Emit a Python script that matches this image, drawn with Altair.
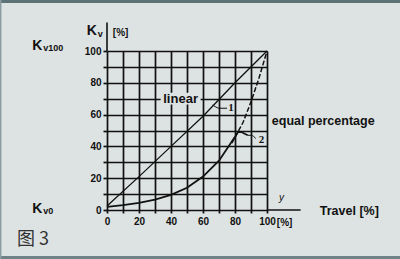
import altair as alt
import pandas as pd

# ---- data ----
lin_x = [0, 20, 40, 60, 80, 100]
lin_y = [2.5, 21, 40, 59, 80, 100]

eq_x = [0, 10, 20, 30, 40, 50, 60, 70, 80]
eq_y = [2, 3, 4.5, 6.5, 9.5, 14, 21, 31, 46]

meas_x = [80, 82, 84, 86, 88]
meas_y = [46, 49, 49, 48, 47]

theo_x = [78, 80, 85, 90, 95, 100]
theo_y = [42, 45.7, 55, 68, 83, 100]

lead1_x = [66, 68, 70, 75]
lead1_y = [66, 64.8, 64, 64]
lead2_x = [88, 90, 92, 93]
lead2_y = [47, 47, 46, 45]

tick_vals = list(range(0, 101, 10))

BG = "#dde3e2"
FONT = "Liberation Sans"
W, H = 160, 159

xs = alt.Scale(domain=[0, 100], nice=False)
ys = alt.Scale(domain=[0, 100], nice=False)

lab_expr = "datum.value % 20 == 0 ? datum.label : ''"
x_axis = alt.Axis(values=tick_vals, grid=True, title=None, labelExpr=lab_expr,
                  domain=False, tickSize=3, tickColor="#111", tickWidth=1.7,
                  gridColor="#111", gridWidth=1.7, gridOpacity=1,
                  labelFont=FONT, labelFontWeight="bold", labelFontSize=10,
                  labelColor="#111", labelPadding=3, labelFlush=False)
y_axis = alt.Axis(values=tick_vals, grid=True, title=None, labelExpr=lab_expr,
                  domain=False, tickSize=4, tickColor="#111", tickWidth=1.7,
                  gridColor="#111", gridWidth=1.7, gridOpacity=1,
                  labelFont=FONT, labelFontWeight="bold", labelFontSize=10,
                  labelColor="#111", labelPadding=2, labelFlush=False)


def X(f="x:Q"):
    return alt.X(f, scale=xs, axis=x_axis)


def Y(f="y:Q"):
    return alt.Y(f, scale=ys, axis=y_axis)


def line_layer(xv, yv, **kw):
    df = pd.DataFrame({"x": xv, "y": yv})
    return alt.Chart(df).mark_line(**kw).encode(x=X(), y=Y())


def text_layer(items, font=FONT, **kw):
    df = pd.DataFrame(items, columns=["x", "y", "t"])
    return alt.Chart(df).mark_text(font=font, color="#111", **kw).encode(
        x=X(), y=Y(), text="t:N")


one = pd.DataFrame({"a": [0]})

# frame decorations
frame_top = alt.Chart(one).mark_rule(color="#5e7377", strokeWidth=3).encode(
    x=alt.value(-107), x2=alt.value(293), y=alt.value(-49.5))
frame_bottom = alt.Chart(one).mark_rule(color="#6f8286", strokeWidth=3).encode(
    x=alt.value(-107), x2=alt.value(293), y=alt.value(206.5))
frame_left = alt.Chart(one).mark_rule(color="#8b9ca0", strokeWidth=1.5).encode(
    x=alt.value(-106.3), y=alt.value(-51), y2=alt.value(208))

# axis extensions
ext_df = pd.DataFrame({"x": [0, 100], "y": [100, 0], "x2": [0, 121], "y2": [118, 0]})
axis_ext = alt.Chart(ext_df).mark_rule(color="#111", strokeWidth=1.6).encode(
    x=X(), y=Y(), x2="x2:Q", y2="y2:Q")

# background box behind "linear"
box_df = pd.DataFrame({"x": [33.5], "x2": [58.5], "y": [66.3], "y2": [73.7]})
lin_box = alt.Chart(box_df).mark_rect(color=BG).encode(
    x=X(), x2="x2:Q", y=Y(), y2="y2:Q")

linear = line_layer(lin_x, lin_y, color="#111", strokeWidth=1.3)
eq = line_layer(eq_x, eq_y, color="#111", strokeWidth=1.8)
meas = line_layer(meas_x, meas_y, color="#111", strokeWidth=1.6)
theo = line_layer(theo_x, theo_y, color="#111", strokeWidth=1.5, strokeDash=[5, 2])
lead1 = line_layer(lead1_x, lead1_y, color="#111", strokeWidth=1, interpolate="monotone")
lead2 = line_layer(lead2_x, lead2_y, color="#111", strokeWidth=1, interpolate="monotone")

t_linear = text_layer([(46, 70, "linear")], fontSize=13, fontWeight="bold",
                      align="center", baseline="middle")
t_num = text_layer([(77.5, 64, "1"), (96.5, 44, "2")], font="Liberation Serif",
                   fontSize=11, fontWeight="bold", align="center", baseline="middle")
t_eq = text_layer([(103, 56, "equal percentage")], fontSize=12.5, fontWeight="bold",
                  align="left", baseline="middle")
t_travel = text_layer([(133, -0.5, "Travel [%]")], fontSize=12.5, fontWeight="bold",
                      align="left", baseline="middle")
t_y = text_layer([(109, 7.5, "y")], fontSize=10, fontStyle="italic",
                 align="center", baseline="middle")
t_pct = text_layer([(111, -8.3, "[%]"), (8.5, 111.5, "[%]")], fontSize=10,
                   fontWeight="bold", align="center", baseline="middle")
t_K = text_layer([(-9.5, 112.5, "K"), (-43.5, 103.2, "K"), (-43.5, 0.5, "K")],
                 fontSize=14, fontWeight="bold", align="center", baseline="middle")
t_sub = text_layer([(-5.8, 110.5, "v"), (-39.8, 101.8, "v100"), (-39.8, -0.6, "v0")],
                   fontSize=9, fontWeight="bold", align="left", baseline="middle")
t_fig = alt.Chart(one).mark_text(font="Noto Sans CJK SC", fontSize=18, color="#333",
                                 align="left", baseline="middle").encode(
    x=alt.value(-90), y=alt.value(189), text=alt.value("图 3"))

chart = alt.layer(
    linear, lin_box, eq, meas, theo, lead1, lead2, axis_ext,
    t_linear, t_num, t_eq, t_travel, t_y, t_pct, t_K, t_sub, t_fig,
    frame_top, frame_bottom, frame_left,
).properties(
    width=W, height=H, background=BG,
    padding={"left": 107, "top": 51, "right": 133, "bottom": 49},
    autosize=alt.AutoSizeParams(type="none"),
).configure_view(stroke=None)

chart.save("out.html", embed_options={"renderer": "svg", "actions": False})
